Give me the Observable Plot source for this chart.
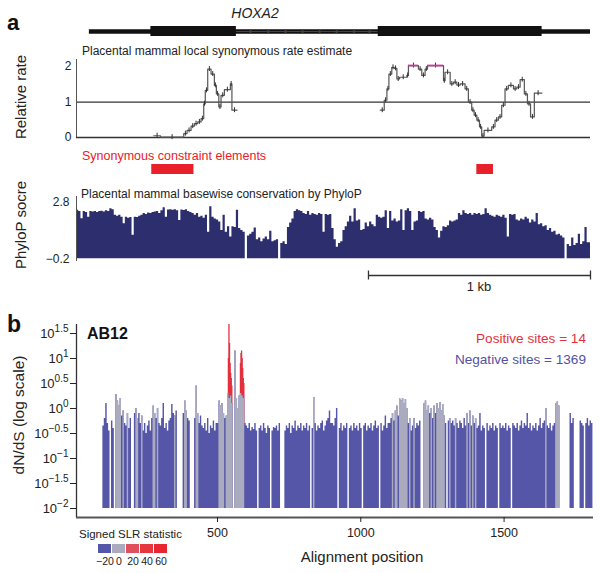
<!DOCTYPE html>
<html><head><meta charset="utf-8">
<script src="https://cdn.jsdelivr.net/npm/d3@7"></script>
<script src="https://cdn.jsdelivr.net/npm/@observablehq/plot@0.6"></script>
<style>
body{margin:0;background:#fff;}
#fig{position:relative;width:600px;height:573px;overflow:hidden;background:#fff;}
#fig > svg{position:absolute;left:0;}
</style></head><body><div id="fig"></div>
<script>
// ---------------- DATA ----------------
// Panel a: genomic coordinates in bp (alignment window 0..2315)
const windowBp = [0, 2315];
const geneSpan = [58, 2315];
const exonStarts = [335, 1359];
const exonEnds = [720, 2097];
const intronArrows = [783, 862, 940, 1017, 1094, 1170, 1249, 1318];

// local synonymous rate estimate (step function), two pieces
const rateLeftStart = [348,378,483,498,516,531,546,561,573,580,591,606,621,630,641,651,666,693,700];
const rateLeftValue = [0.05,0.01,0.11,0.2,0.32,0.39,0.44,0.53,0.95,1.33,1.93,1.79,1.47,1.23,0.86,1.19,1.35,1.51,0.77];
const rateLeftEnd = 723;
const rateRightStart = [1368,1386,1398,1407,1420,1431,1443,1455,1488,1495,1540,1555,1570,1581,1653,1660,1683,1698,1713,1728,1750,1765,1780,1791,1803,1815,1825,1836,1870,1885,1900,1915,1930,1945,1968,1983,1998,2017,2031,2045,2062];
const rateRightValue = [0.77,1.05,1.37,1.79,1.98,1.95,1.65,1.70,1.75,2.03,1.93,1.75,1.93,2.03,1.6,1.84,1.51,1.56,1.48,1.51,1.37,1.0,0.77,0.63,0.49,0.30,0.04,0.2,0.3,0.49,0.58,0.91,1.37,1.47,1.37,1.42,1.63,1.23,0.95,0.58,1.25];
const rateRightEnd = 2096;
const rateTicks = [0, 1, 2];

// synonymous constraint elements (bp)
const constraintStart = [339, 1803];
const constraintEnd = [529, 1878];

// PhyloP basewise conservation, 10-bp bins from 0
const phyloStep = 10;
const phyloP = [
  2.37,2.3,1.92,2.3,2.25,2.0,2.3,2.28,2.3,2.25,
  2.3,2.32,2.28,2.35,2.3,2.45,2.4,2.1,2.05,2.1,
  2.0,1.66,2.0,1.95,1.98,1.04,2.0,1.98,2.05,2.1,
  2.2,2.15,2.22,2.2,2.25,2.28,2.3,2.2,2.35,2.5,
  2.0,2.38,2.4,2.37,2.4,2.35,1.83,2.38,2.36,2.4,
  2.3,2.25,2.2,2.1,2.2,2.0,2.05,1.95,2.1,1.2,
  2.55,2.0,1.9,1.85,1.75,1.3,2.1,1.2,1.5,0.95,
  1.5,1.45,2.37,1.4,1.3,1.2,-0.2,1.0,1.1,1.2,
  1.43,0.8,0.9,0.7,0.85,0.95,0.8,1.25,0.7,0.75,
  0.8,-0.2,0.6,0.7,0.55,1.45,1.7,1.9,2.3,2.4,
  2.35,2.3,2.2,2.15,2.3,2.1,2.2,2.15,2.1,2.2,
  2.15,1.2,2.15,2.1,2.15,1.4,0.8,0.4,0.6,0.7,
  1.3,1.5,1.75,2.05,1.75,2.45,1.8,1.85,1.3,1.35,
  1.7,1.5,1.75,1.6,1.5,2.1,2.0,1.95,2.0,2.35,
  1.4,2.3,1.8,1.9,1.75,1.8,2.4,1.3,2.35,2.45,
  2.3,1.3,1.75,1.8,2.3,2.25,2.3,1.9,1.85,1.95,
  1.85,1.45,1.3,0.9,1.25,1.5,1.45,1.55,1.8,1.75,
  1.8,1.85,2.2,2.1,2.35,2.2,2.15,2.2,2.1,2.2,
  2.15,2.2,2.1,2.15,2.45,2.2,2.1,2.05,2.0,2.1,
  2.05,2.0,2.1,1.95,0.95,2.15,2.1,2.15,1.85,1.8,
  1.9,1.85,2.0,1.9,1.7,1.85,1.75,2.2,1.6,1.65,
  1.5,1.55,1.3,1.4,1.2,1.25,1.05,1.1,1.0,0.9,
  -0.2,0.55,0.45,0.9,0.5,0.6,1.1,0.55,0.7,1.45,0.65
];
const phyloTicks = [-0.2, 2.8];
const scaleBar = [1315, 2315];

// Panel b: log10 dN/dS per 5-position bin starting at 100 (null = no site)
const dndsStart = 100, dndsStep = 5;
const dndsLog = [
  -0.35,-0.2,0.1,-0.3,-0.45,null,-0.25,-0.4,null,0.28,0.15,0.05,0.2,-0.15,-0.05,-0.3,-0.35,-0.1,-0.4,-0.2,
  null,null,-0.1,0.0,-0.2,-0.1,-0.3,-0.15,-0.45,-0.3,-0.5,-0.35,-0.25,-0.45,-0.2,0.05,-0.1,-0.2,0.0,-0.3,
  -0.35,-0.2,0.1,-0.4,-0.3,-0.45,-0.25,-0.2,0.08,-0.1,-0.15,-0.05,null,null,null,null,-0.1,0.15,-0.05,-0.2,
  -0.25,null,null,null,-0.2,0.45,-0.1,-0.3,-0.15,-0.35,-0.4,-0.3,-0.45,-0.2,-0.5,-0.35,-0.4,-0.25,-0.45,-0.3,
  -0.3,0.15,0.05,0.1,-0.1,-0.2,-0.15,0.3,0.2,0.25,0.1,null,1.15,0.2,0.0,0.25,0.3,0.25,0.2,-0.3,
  -0.35,-0.4,-0.3,-0.45,-0.38,-0.42,-0.3,-0.45,null,-0.4,-0.35,-0.45,-0.3,-0.4,-0.5,-0.35,-0.4,null,-0.45,-0.38,
  -0.4,-0.35,-0.45,-0.3,null,null,null,-0.45,-0.35,-0.4,-0.3,-0.5,-0.35,-0.4,-0.25,-0.45,-0.35,-0.4,-0.3,-0.45,
  -0.35,-0.4,-0.3,-0.45,-0.35,null,-0.4,0.22,-0.3,-0.45,-0.35,-0.4,-0.3,-0.25,-0.45,-0.35,-0.25,-0.2,-0.05,-0.3,
  -0.3,-0.35,-0.2,0.0,null,-0.4,-0.3,-0.45,-0.35,-0.4,-0.3,null,-0.4,-0.35,-0.45,-0.3,-0.4,-0.35,-0.45,-0.3,
  -0.4,null,-0.35,-0.3,-0.45,-0.35,-0.4,-0.3,-0.45,-0.35,-0.25,-0.4,-0.35,null,-0.3,-0.45,-0.35,-0.15,-0.4,-0.3,
  -0.3,-0.2,-0.1,-0.25,-0.05,0.05,-0.15,0.19,0.15,0.2,0.1,0.18,0.0,-0.3,-0.2,-0.45,-0.35,-0.2,-0.4,-0.3,
  -0.35,-0.25,null,null,0.1,0.15,-0.05,0.05,-0.1,0.0,-0.2,0.05,-0.1,0.1,0.0,0.12,-0.05,0.08,-0.15,-0.3,
  null,-0.25,-0.2,-0.3,-0.25,-0.35,-0.2,-0.3,-0.4,-0.25,-0.3,-0.4,-0.2,-0.35,-0.1,-0.3,-0.05,-0.35,-0.15,-0.3,
  -0.2,-0.4,-0.35,-0.1,-0.45,-0.35,-0.4,null,-0.3,-0.45,-0.35,-0.4,-0.3,-0.45,-0.35,-0.4,null,-0.3,-0.4,-0.35,
  -0.4,-0.3,-0.45,-0.35,-0.4,null,-0.3,-0.35,-0.4,-0.3,-0.45,-0.35,-0.25,-0.4,-0.3,-0.35,-0.1,-0.4,-0.3,-0.45,
  -0.35,-0.4,-0.3,-0.45,-0.35,-0.2,-0.4,-0.3,-0.25,0.0,-0.35,-0.4,-0.3,-0.45,-0.35,-0.3,0.1,0.13,0.05,null,
  null,null,null,null,null,null,-0.1,-0.3,-0.2,null,null,null,null,-0.25,-0.3,-0.35,null,-0.3,-0.2,-0.35,-0.25,-0.3
];
// bins whose signed SLR statistic is near zero (grey)
const neutralBins = [145,150,155,160,170,185,215,220,235,275,280,290,350,385,390,425,430,
  505,510,515,520,530,535,540,545,550,560,565,570,575,580,585,590,835,
  1110,1120,1125,1135,1140,1145,1150,1155,1160,1170,1185,
  1220,1225,1230,1235,1245,1255,1265,1270,1275,1280,1285,1290,
  1310,1330,1370,1380,1390,1400,1645,1680,1685,1690];
// positively selected sites (log10 dN/dS)
const posSitePos = [538,540,542,544,546,548,550,580,582,584,586,588,590,592];
const posSiteLog = [1.0,1.68,1.3,0.9,0.7,0.6,0.45,0.9,1.1,1.15,1.0,0.8,0.6,0.5];
const dndsTicksLog = [-2,-1.5,-1,-0.5,0,0.5,1,1.5];
const dndsDomainLog = [-2.18, 1.68];
const alignTicks = [500, 1000, 1500];
const alignDomain = [8, 1812];
const slrLabels = ["\u221220", "0", "20", "40", "60"];
const slrColors = ["#5656a8", "#ababc0", "#e0505c", "#e6363f", "#e82630"];

// ---------------- RENDER ----------------
const FONT = "'Liberation Sans', Arial, sans-serif";
const fig = document.getElementById("fig");
const baseStyle = {fontFamily: FONT, fontSize: "12px", background: "transparent", color: "#222", overflow: "visible"};
function place(svg, top) { svg.style.top = top + "px"; svg.style.left = "0px"; fig.appendChild(svg); return svg; }
const BLUE = slrColors[0], GREY = slrColors[1], RED = "#e3303f";

// gene structure
const exons = exonStarts.map((s, i) => ({x1: s, x2: exonEnds[i]}));
place(Plot.plot({
  width: 600, height: 45, marginLeft: 76, marginRight: 10, marginTop: 26, marginBottom: 9,
  x: {domain: windowBp, axis: null}, y: {domain: [0, 1], axis: null},
  style: baseStyle,
  marks: [
    Plot.ruleY([{y: 0.5, x1: geneSpan[0], x2: geneSpan[1]}], {y: "y", x1: "x1", x2: "x2", stroke: "#111", strokeWidth: 4.5}),
    Plot.ruleY([{y: 0.5, x1: exonEnds[0], x2: exonStarts[1]}], {y: "y", x1: "x1", x2: "x2", stroke: "#444", strokeWidth: 1}),
    Plot.rect(exons, {x1: "x1", x2: "x2", fill: "#111"}),
    Plot.text(intronArrows, {x: d => d, y: () => 0.5, text: () => "\u203A", fontSize: 12, fill: "#444", fontWeight: "bold"})
  ]
}), 0);

// rate plot
function stepPoints(starts, values, end, piece) {
  const pts = starts.map((s, i) => ({x: s, v: values[i], piece}));
  pts.push({x: end, v: values[values.length - 1], piece});
  return pts;
}
function stepSegs(starts, values, end) {
  return starts.map((s, i) => ({x1: s, x2: i < starts.length - 1 ? starts[i + 1] : end, v: values[i]}));
}
const ratePts = stepPoints(rateLeftStart, rateLeftValue, rateLeftEnd, "L").concat(stepPoints(rateRightStart, rateRightValue, rateRightEnd, "R"));
const rateSegs = stepSegs(rateLeftStart, rateLeftValue, rateLeftEnd).concat(stepSegs(rateRightStart, rateRightValue, rateRightEnd));
place(Plot.plot({
  width: 600, height: 102, marginLeft: 76, marginRight: 10, marginTop: 19, marginBottom: 5,
  x: {domain: windowBp, axis: null}, y: {domain: [0, 2.2], label: null},
  style: baseStyle,
  marks: [
    Plot.ruleY(rateTicks.slice(0, 2), {stroke: "#333", strokeWidth: 1.3}),
    Plot.ruleX([windowBp[0]], {stroke: "#555", strokeWidth: 1}),
    Plot.line(ratePts, {x: "x", y: "v", z: "piece", curve: "step-after", stroke: "#555", strokeWidth: 1.2}),
    Plot.ruleX(rateSegs, {x: d => (d.x1 + d.x2) / 2, y1: d => d.v - 0.07, y2: d => d.v + 0.07, stroke: "#333", strokeWidth: 1}),
    Plot.ruleY(rateSegs.filter(d => d.v >= 2), {y: "v", x1: "x1", x2: "x2", stroke: "#c23a98", strokeWidth: 1.8}),
    Plot.axisY({ticks: rateTicks, tickFormat: d => String(d), tickSize: 0, tickPadding: 5, fontSize: 12, label: null})
  ]
}), 40);

// constraint elements
const constraints = constraintStart.map((s, i) => ({x1: s, x2: constraintEnd[i]}));
place(Plot.plot({
  width: 600, height: 40, marginLeft: 76, marginRight: 10, marginTop: 24, marginBottom: 6,
  x: {domain: windowBp, axis: null},
  style: baseStyle,
  marks: [Plot.rect(constraints, {x1: "x1", x2: "x2", fill: "#e8202a"})]
}), 140);

// PhyloP (step area, so adjacent bins have no seams)
const phyloPts = phyloP.map((v, i) => ({x: i * phyloStep, v}));
phyloPts.push({x: windowBp[1], v: phyloP[phyloP.length - 1]});
place(Plot.plot({
  width: 600, height: 90, marginLeft: 76, marginRight: 10, marginTop: 16, marginBottom: 9,
  x: {domain: windowBp, axis: null}, y: {domain: [-0.35, 3.1], label: null},
  style: baseStyle,
  marks: [
    Plot.areaY(phyloPts, {x: "x", y1: () => phyloTicks[0], y2: "v", curve: "step-after", fill: "#2c2e6e"}),
    Plot.ruleX([windowBp[0]], {stroke: "#555", strokeWidth: 1}),
    Plot.axisY({ticks: phyloTicks, tickFormat: d => d < 0 ? "\u22120.2" : "2.8", tickSize: 0, tickPadding: 7, fontSize: 12, label: null})
  ]
}), 180);

// scale bar
place(Plot.plot({
  width: 600, height: 35, marginLeft: 76, marginRight: 10, marginTop: 5, marginBottom: 5,
  x: {domain: windowBp, axis: null}, y: {domain: [0, 1], axis: null},
  style: baseStyle,
  marks: [
    Plot.ruleY([{y: 0.8, x1: scaleBar[0], x2: scaleBar[1]}], {y: "y", x1: "x1", x2: "x2", stroke: "#333", strokeWidth: 1.3}),
    Plot.ruleX(scaleBar, {x: d => d, y1: () => 0.62, y2: () => 0.98, stroke: "#333", strokeWidth: 1.3})
  ]
}), 265);

// Panel b (y is log10 dN/dS on a linear scale, labelled as powers of ten)
// contiguous runs of bins are drawn as step areas so neighbouring bars have no seams
function runPoints(keep) {
  const pts = [];
  let run = 0, prev = false;
  dndsLog.forEach((v, i) => {
    const s = dndsStart + i * dndsStep;
    const ok = v !== null && keep(s);
    if (ok) {
      if (!prev) run++;
      pts.push({x: s, v, run});
      const nextOk = i + 1 < dndsLog.length && dndsLog[i + 1] !== null && keep(s + dndsStep);
      if (!nextOk) pts.push({x: s + dndsStep, v, run});
    }
    prev = ok;
  });
  return pts;
}
const allPts = runPoints(() => true);
const greyPts = runPoints(s => neutralBins.includes(s));
const posSites = posSitePos.map((p, i) => ({pos: p, v: posSiteLog[i]}));
const fmtExp = e => (e < 0 ? "\u2212" : "") + String(Math.abs(e));
const bSvg = Plot.plot({
  width: 600, height: 230, marginLeft: 76, marginRight: 7, marginTop: 9, marginBottom: 28,
  x: {domain: alignDomain, label: null},
  y: {domain: dndsDomainLog, label: null},
  style: baseStyle,
  marks: [
    Plot.ruleX(posSites, {x: "pos", y1: () => dndsTicksLog[0], y2: "v", stroke: RED, strokeWidth: 1.3}),
    Plot.areaY(allPts, {x: "x", y1: () => dndsTicksLog[0], y2: "v", z: "run", curve: "step-after", fill: BLUE}),
    Plot.areaY(greyPts, {x: "x", y1: () => dndsTicksLog[0], y2: "v", z: "run", curve: "step-after", fill: GREY}),
    Plot.ruleX([alignDomain[0]], {stroke: "#333", strokeWidth: 1.3}),
    Plot.ruleY([dndsDomainLog[0]], {stroke: "#555", strokeWidth: 2.2}),
    Plot.axisX({ticks: alignTicks, tickFormat: d => String(d), tickSize: 5, tickPadding: 6, fontSize: 12.5, label: null}),
    Plot.axisY({ticks: dndsTicksLog, tickFormat: e => "10^" + fmtExp(e), tickSize: 6, tickPadding: 2, fontSize: 13, label: null})
  ]
});
place(bSvg, 315);
bSvg.querySelectorAll('g[aria-label="y-axis tick label"] text').forEach(t => {
  const s = t.textContent;
  if (s.startsWith("10^")) {
    t.textContent = "10";
    const ts = document.createElementNS("http://www.w3.org/2000/svg", "tspan");
    ts.setAttribute("dy", "-6");
    ts.setAttribute("font-size", "10");
    ts.textContent = s.slice(3);
    t.appendChild(ts);
  }
});

// legend
place(Plot.plot({
  width: 180, height: 33, marginLeft: 96, marginRight: 10, marginTop: 4, marginBottom: 20,
  x: {type: "band", domain: slrLabels, paddingInner: 0.06, paddingOuter: 0, label: null},
  color: {type: "ordinal", domain: slrLabels, range: slrColors},
  style: baseStyle,
  marks: [
    Plot.cell(slrLabels, {x: d => d, fill: d => d}),
    Plot.axisX({tickSize: 0, tickPadding: 4, fontSize: 10.5, label: null})
  ]
}), 540);

// annotations
const ov = d3.create("svg").attr("width", 600).attr("height", 573)
  .style("position", "absolute").style("left", "0px").style("top", "0px")
  .attr("font-family", FONT);
function label(txt, x, y, o = {}) {
  const t = ov.append("text").attr("x", x).attr("y", y).text(txt)
    .attr("font-size", o.size || 12).attr("fill", o.fill || "#222")
    .attr("text-anchor", o.anchor || "start");
  if (o.weight) t.attr("font-weight", o.weight);
  if (o.italic) t.attr("font-style", "italic");
  if (o.rotate) t.attr("transform", `rotate(-90 ${x} ${y})`).attr("dy", "0.35em");
  return t;
}
label("a", 7, 30, {size: 22, weight: "bold", fill: "#111"});
label("HOXA2", 255, 18, {size: 14, italic: true, anchor: "middle"});
label("Placental mammal local synonymous rate estimate", 82, 55, {size: 12});
label("Relative rate", 21, 97, {size: 15, anchor: "middle", rotate: true});
label("Synonymous constraint elements", 82, 160, {size: 12.5, fill: "#e8202a"});
label("Placental mammal basewise conservation by PhyloP", 81, 198, {size: 12});
label("PhyloP socre", 21, 225, {size: 15, anchor: "middle", rotate: true});
label("1 kb", 479, 291, {size: 13, anchor: "middle"});
label("b", 7, 332, {size: 23, weight: "bold", fill: "#111"});
label("AB12", 87, 339, {size: 16, weight: "bold", fill: "#111"});
label("Positive sites = 14", 586, 343, {size: 13.6, anchor: "end", fill: "#e3303c"});
label("Negative sites = 1369", 586, 364, {size: 13.6, anchor: "end", fill: "#5252a4"});
label("dN/dS (log scale)", 19, 415, {size: 15.5, anchor: "middle", rotate: true});
label("Alignment position", 362, 562, {size: 15, anchor: "middle"});
label("Signed SLR statistic", 79, 538, {size: 11.5});
fig.appendChild(ov.node());
</script>
</body></html>
